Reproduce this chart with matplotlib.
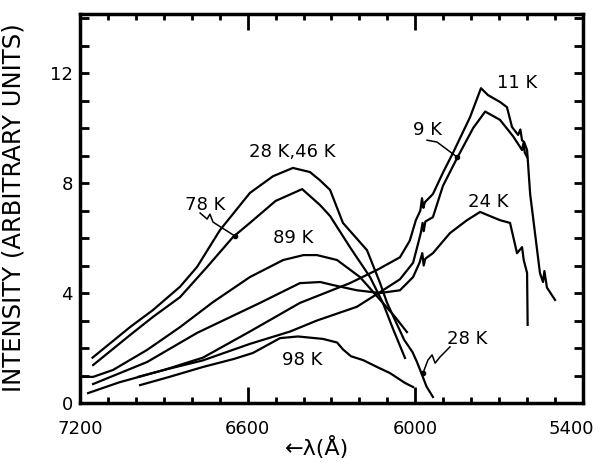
import numpy as np
import matplotlib.pyplot as plt
import matplotlib.transforms as mtransforms
from matplotlib.ticker import MultipleLocator, FixedLocator

plt.rcParams['font.family'] = ['DejaVu Sans']

# emission spectra, wavelength in angstrom, intensity in arbitrary units
wl_28_46 = [7155, 7021, 6939, 6842, 6781, 6699, 6592, 6509, 6438, 6377, 6341, 6305,
            6259, 6173, 6126, 6101, 6040, 6010, 5994, 5975, 5960, 5937]
i_28_46 = [1.65, 2.76, 3.38, 4.23, 4.95, 6.29, 7.64, 8.25, 8.55, 8.4, 8.1, 7.75,
           6.55, 5.56, 4.36, 3.64, 2.3, 1.85, 1.49, 1.0, 0.6, 0.22]

wl_78 = [7153, 7021, 6939, 6842, 6745, 6652, 6592, 6500, 6405, 6341, 6305, 6234,
         6162, 6116, 6080, 6037]
i_78 = [1.38, 2.47, 3.13, 3.85, 4.95, 6.04, 6.55, 7.35, 7.78, 7.2, 6.8, 5.67,
        4.58, 3.64, 2.7, 1.64]

wl_89 = [7200, 7153, 7082, 6960, 6842, 6724, 6592, 6473, 6400, 6352, 6280, 6198,
         6116, 6070, 6030]
i_89 = [0.95, 0.95, 1.2, 1.93, 2.76, 3.67, 4.58, 5.2, 5.38, 5.38, 5.2, 4.58,
        3.64, 3.1, 2.58]

wl_98 = [6985, 6880, 6760, 6650, 6581, 6484, 6420, 6330, 6280, 6259, 6230, 6187,
         6137, 6091, 6037, 6008]
i_98 = [0.65, 0.95, 1.31, 1.6, 1.82, 2.36, 2.42, 2.33, 2.2, 1.95, 1.7, 1.56,
        1.31, 1.09, 0.73, 0.58]

wl_24 = [7153, 6960, 6781, 6556, 6413, 6340, 6295, 6209, 6126, 6055, 6008, 5985,
         5975, 5970, 5964, 5937, 5876, 5815, 5768, 5733, 5697, 5661, 5636, 5618,
         5612, 5600, 5598]
i_24 = [0.69, 1.49, 2.55, 3.64, 4.36, 4.4, 4.29, 4.1, 4.0, 4.1, 4.58, 5.1,
        5.45, 5.0, 5.25, 5.45, 6.18, 6.65, 6.95, 6.8, 6.65, 6.55, 5.45, 5.67,
        5.2, 4.73, 2.84]

wl_9 = [6992, 6900, 6760, 6592, 6448, 6352, 6209, 6116, 6055, 6008, 5990, 5980,
        5974, 5970, 5964, 5937, 5901, 5851, 5793, 5750, 5697, 5650, 5618, 5613,
        5608, 5600]
i_9 = [0.95, 1.2, 1.55, 2.15, 2.6, 3.0, 3.5, 4.1, 4.5, 5.1, 5.8, 6.2,
       6.55, 6.25, 6.6, 6.76, 7.9, 8.9, 10.0, 10.6, 10.3, 9.7, 9.2, 9.45,
       9.1, 8.95]

wl_11 = [7171, 7060, 6900, 6760, 6592, 6413, 6234, 6137, 6055, 6020, 5998, 5982,
         5976, 5971, 5966, 5937, 5900, 5865, 5804, 5765, 5740, 5697, 5672, 5654,
         5632, 5624, 5618, 5611, 5600, 5589, 5554, 5543, 5538, 5529, 5500]
i_11 = [0.36, 0.75, 1.2, 1.65, 2.6, 3.64, 4.36, 4.84, 5.3, 5.9, 6.65, 7.0,
        7.45, 7.1, 7.3, 7.6, 8.4, 9.1, 10.4, 11.45, 11.2, 10.95, 10.76, 10.04,
        9.75, 9.95, 9.55, 9.5, 9.2, 7.6, 4.73, 4.4, 4.8, 4.2, 3.75]

curves = [(wl_28_46, i_28_46), (wl_78, i_78), (wl_89, i_89), (wl_98, i_98),
          (wl_24, i_24), (wl_9, i_9), (wl_11, i_11)]

# curve labels and their positions
labels = ['28 K,46 K', '78 K', '89 K', '98 K', '9 K', '11 K', '24 K', '28 K']
label_wl = [6441, 6753, 6438, 6405, 5955, 5636, 5740, 5815]
label_i = [9.13, 7.2, 6.0, 1.56, 9.93, 11.64, 7.31, 2.33]

# hand-drawn pointer lines from a label to its curve
arrow_78_wl = [6770, 6745, 6735, 6724, 6645]
arrow_78_i = [6.91, 6.69, 6.87, 6.58, 6.07]
arrow_9_wl = [5958, 5922, 5851]
arrow_9_i = [9.56, 9.49, 8.95]
arrow_28_wl = [5876, 5912, 5929, 5940, 5955, 5972]
arrow_28_i = [2.04, 1.67, 1.45, 1.75, 1.56, 1.1]

fig = plt.figure(figsize=(6.01, 4.63), dpi=100)
ax = fig.add_axes([0.1331, 0.1296, 0.8369, 0.8402])

for wl, inten in curves:
    ax.plot(wl, inten, color='black', lw=1.6, solid_joinstyle='round')

for wl, inten in [(arrow_78_wl, arrow_78_i), (arrow_9_wl, arrow_9_i), (arrow_28_wl, arrow_28_i)]:
    ax.plot(wl, inten, color='black', lw=1.1)
    ax.plot(wl[-1], inten[-1], 'o', color='black', ms=3)

for txt, x, y in zip(labels, label_wl, label_i):
    ax.text(x, y, txt, fontsize=13, ha='center', va='center')

ax.set_xlim(7200, 5400)
ax.set_ylim(0, 14.15)

ax.xaxis.set_major_locator(FixedLocator([7200, 6600, 6000, 5400]))
ax.xaxis.set_minor_locator(MultipleLocator(100))
ax.yaxis.set_major_locator(FixedLocator([0, 4, 8, 12]))
ax.yaxis.set_minor_locator(MultipleLocator(1))

ax.tick_params(axis='both', which='both', direction='in', top=True, right=True,
               width=2, labelsize=13)
ax.tick_params(axis='x', which='major', length=11.5, pad=12)
ax.tick_params(axis='x', which='minor', length=4.5)
ax.tick_params(axis='y', which='both', length=6.5, pad=5)

for sp in ax.spines.values():
    sp.set_linewidth(2.5)

# pull the last x label in so it stays inside the figure
fig.canvas.draw()
last = ax.get_xticklabels()[-1]
last.set_transform(last.get_transform() +
                   mtransforms.ScaledTranslation(-12 / 100, 0, fig.dpi_scale_trans))

fig.text(14 / 601, 0.551, 'INTENSITY (ARBITRARY UNITS)', rotation=90,
         fontsize=17.5, ha='center', va='center')
fig.text(317 / 601, 0.018, '\u2190\u03bb(\u00c5)', fontsize=16, ha='center', va='baseline')

fig.savefig('out.png', dpi=100)
